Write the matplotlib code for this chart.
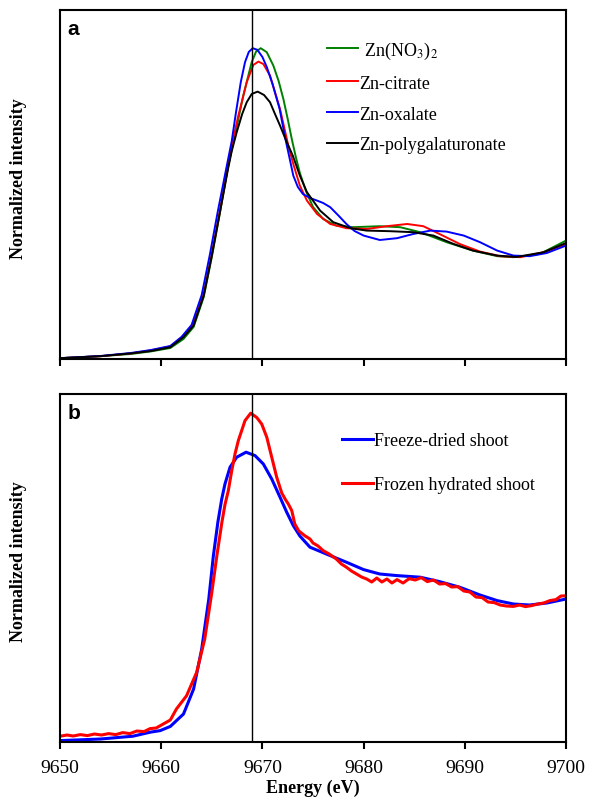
import numpy as np
import matplotlib
matplotlib.use('Agg')
import matplotlib.pyplot as plt

plt.rcParams['font.family'] = 'serif'
plt.rcParams['font.serif'] = ['Liberation Serif', 'DejaVu Serif']
plt.rcParams['mathtext.fontset'] = 'stix'

# ---- panel a: reference compounds (energy in eV, normalized intensity) ----
e_black = [9650, 9654, 9657, 9659, 9660.9, 9662.2, 9663.2, 9664.2, 9665.0, 9665.8, 9666.6,
           9666.97, 9667.46, 9668.0, 9668.45, 9668.94, 9669.53, 9670.16, 9670.75, 9671.2,
           9671.74, 9672.4, 9673.0, 9673.7, 9674.4, 9675.7, 9677.0, 9678.7,
           9680.3, 9682.6, 9684.9, 9686.9, 9688.9, 9690.8, 9693.2, 9695.1, 9697.8, 9700]
i_black = [0.004, 0.014, 0.028, 0.040, 0.059, 0.109, 0.167, 0.317, 0.517, 0.734, 0.950,
           1.040, 1.134, 1.225, 1.284, 1.325, 1.337, 1.320, 1.284, 1.230,
           1.167, 1.085, 1.017, 0.917, 0.834, 0.742, 0.684, 0.654,
           0.642, 0.639, 0.634, 0.617, 0.575, 0.542, 0.517, 0.510, 0.534, 0.580]

e_blue = [9650, 9654, 9657, 9659, 9660.9, 9662.0, 9663.0, 9664.0, 9664.8, 9665.6, 9666.3,
          9666.97, 9667.39, 9667.86, 9668.28, 9668.65, 9669.04, 9669.5, 9670.0, 9670.43,
          9671.0, 9671.7, 9672.23, 9672.7, 9673.05, 9673.5, 9674.0, 9674.7, 9675.4, 9676.0,
          9676.7, 9677.5, 9678.3, 9679.1, 9680.0, 9681.6, 9683.3, 9684.9, 9686.6, 9688.2,
          9689.9, 9691.5, 9693.2, 9694.8, 9696.4, 9698.1, 9700]
i_blue = [0.004, 0.015, 0.030, 0.045, 0.065, 0.110, 0.170, 0.320, 0.520, 0.740, 0.920,
          1.090, 1.234, 1.384, 1.484, 1.535, 1.554, 1.546, 1.510, 1.460,
          1.375, 1.250, 1.110, 1.000, 0.917, 0.860, 0.825, 0.805, 0.792, 0.780,
          0.759, 0.718, 0.675, 0.640, 0.617, 0.595, 0.604, 0.625, 0.642, 0.637,
          0.617, 0.584, 0.542, 0.517, 0.514, 0.530, 0.567]

e_green = [9650, 9654, 9657, 9659, 9660.9, 9662.2, 9663.2, 9664.2, 9665.0, 9665.8, 9666.6,
           9667.29, 9668.11, 9668.94, 9669.37, 9669.83, 9670.43, 9671.08, 9671.6, 9672.07,
           9672.5, 9672.9, 9673.3, 9673.7, 9674.3, 9675.0, 9676.0, 9677.3, 9679.0, 9681.6,
           9683.6, 9685.6, 9688.2, 9690.8, 9693.2, 9694.8, 9697.4, 9700]
i_green = [0.004, 0.014, 0.025, 0.038, 0.055, 0.100, 0.160, 0.310, 0.510, 0.730, 0.960,
           1.120, 1.317, 1.484, 1.537, 1.554, 1.534, 1.467, 1.390, 1.300,
           1.200, 1.100, 1.010, 0.930, 0.840, 0.760, 0.700, 0.667, 0.659, 0.664,
           0.659, 0.634, 0.584, 0.542, 0.514, 0.509, 0.525, 0.592]

e_red = [9650, 9654, 9657, 9659, 9660.9, 9662.2, 9663.2, 9664.2, 9665.0, 9665.8, 9666.6,
         9666.97, 9667.62, 9668.45, 9669.1, 9669.6, 9670.09, 9670.75, 9671.74, 9672.56,
         9673.05, 9673.7, 9674.4, 9675.4, 9676.7, 9678.3, 9680.3, 9682.3, 9684.3, 9685.9,
         9687.5, 9689.5, 9691.5, 9693.5, 9695.5, 9697.8, 9700]
i_red = [0.004, 0.014, 0.028, 0.043, 0.063, 0.115, 0.180, 0.325, 0.525, 0.740, 0.960,
         1.067, 1.217, 1.384, 1.470, 1.487, 1.475, 1.417, 1.250, 1.067,
         0.975, 0.867, 0.792, 0.725, 0.675, 0.654, 0.650, 0.664, 0.675, 0.664,
         0.625, 0.575, 0.537, 0.514, 0.509, 0.534, 0.575]

# ---- panel b: shoot samples ----
e_dried = [9650, 9654, 9657.2, 9658.9, 9659.9, 9660.9, 9662.2, 9663.2, 9664.0, 9664.7,
           9665.15, 9665.6, 9665.98, 9666.3, 9666.8, 9667.46, 9668.38, 9669.27, 9670.09,
           9670.92, 9671.74, 9672.4, 9673.05, 9673.7, 9674.7, 9676.7, 9678.3, 9680.0, 9681.6,
           9683.3, 9685.6, 9687.5, 9689.5, 9691.5, 9693.2, 9694.8, 9696.4, 9698.1, 9700]
i_dried = [0.007, 0.015, 0.029, 0.049, 0.057, 0.078, 0.140, 0.265, 0.465, 0.715,
           0.930, 1.100, 1.215, 1.290, 1.374, 1.424, 1.449, 1.432, 1.390,
           1.315, 1.224, 1.149, 1.082, 1.030, 0.974, 0.932, 0.899, 0.862, 0.840,
           0.832, 0.824, 0.802, 0.774, 0.735, 0.707, 0.690, 0.685, 0.695, 0.715]

e_hydr = [9650, 9650.7, 9651.3, 9652.0, 9652.7, 9653.4, 9654.1, 9654.8, 9655.5, 9656.2,
          9656.9, 9657.6, 9658.3, 9658.9, 9659.5, 9660.2, 9660.9, 9661.5, 9662.5, 9663.5,
          9664.3, 9665.0, 9665.5, 9666.0, 9666.3, 9666.63, 9666.97, 9667.29, 9667.62,
          9667.95, 9668.28, 9668.84, 9669.43, 9669.93, 9670.43, 9670.92, 9671.41, 9671.91,
          9672.3, 9672.56, 9672.9, 9673.2, 9673.6, 9674.2,
          9674.7, 9675.0, 9675.5, 9676.0, 9676.6, 9677.3, 9677.8, 9678.3, 9678.8, 9679.3,
          9679.8, 9680.3, 9680.8, 9681.3, 9681.8, 9682.3, 9682.8, 9683.3, 9683.9, 9684.5,
          9685.1, 9685.7, 9686.3, 9686.9, 9687.5, 9688.1, 9688.7, 9689.3, 9689.9, 9690.5,
          9691.1, 9691.7, 9692.3, 9692.9, 9693.5, 9694.1, 9694.8, 9695.4, 9696.0, 9696.6,
          9697.2, 9697.8, 9698.4, 9699.0, 9699.5, 9700]
i_hydr = [0.029, 0.035, 0.030, 0.037, 0.032, 0.040, 0.035, 0.042, 0.037, 0.047,
          0.042, 0.055, 0.052, 0.067, 0.070, 0.090, 0.110, 0.165, 0.231, 0.348,
          0.515, 0.748, 0.932, 1.100, 1.187, 1.257, 1.357, 1.440, 1.507,
          1.557, 1.607, 1.644, 1.623, 1.590, 1.524, 1.424, 1.324, 1.245,
          1.210, 1.190, 1.157, 1.090, 1.055, 1.031,
          1.015, 0.995, 0.980, 0.957, 0.940, 0.915, 0.890, 0.874, 0.855, 0.840,
          0.825, 0.815, 0.800, 0.820, 0.800, 0.815, 0.795, 0.812, 0.795, 0.817,
          0.810, 0.822, 0.802, 0.810, 0.790, 0.792, 0.775, 0.777, 0.755, 0.750,
          0.725, 0.722, 0.700, 0.697, 0.685, 0.680, 0.678, 0.685, 0.677, 0.682,
          0.690, 0.695, 0.707, 0.712, 0.730, 0.731]

e_line = 9669.0
xticks = [9650, 9660, 9670, 9680, 9690, 9700]

fig = plt.figure(figsize=(5.96, 8.03), dpi=100)
ax1 = fig.add_axes([0.1007, 0.5517, 0.849, 0.4346])
ax2 = fig.add_axes([0.1007, 0.0747, 0.849, 0.4334])

ax1.plot(e_green, i_green, color='#008000', lw=1.4, label=' Zn(NO$_3$)$_2$')
ax1.plot(e_red, i_red, color='#ff0000', lw=1.4, label='Zn-citrate')
ax1.plot(e_blue, i_blue, color='#0000ff', lw=1.4, label='Zn-oxalate')
ax1.plot(e_black, i_black, color='black', lw=1.4, label='Zn-polygalaturonate')
ax1.axvline(e_line, color='black', lw=1)
ax1.set_ylim(0, 1.745)

ax2.plot(e_dried, i_dried, color='#0000ff', lw=2.2, label='Freeze-dried shoot')
ax2.plot(e_hydr, i_hydr, color='#ff0000', lw=2.2, label='Frozen hydrated shoot')
ax2.axvline(e_line, color='black', lw=1)
ax2.set_ylim(0, 1.74)

for ax in (ax1, ax2):
    ax.set_xlim(9650, 9700)
    ax.set_xticks(xticks)
    ax.set_yticks([])
    ax.tick_params(axis='x', direction='out', length=5, width=1.5, pad=7, labelsize=14)
    for s in ax.spines.values():
        s.set_linewidth(1.5)
    ax.set_ylabel('Normalized intensity', fontsize=13, fontweight='bold')
    ax.yaxis.set_label_coords(-0.066, 0.52)

ax1.set_xticklabels([])
ax2.set_xlabel('Energy (eV)', fontsize=13, fontweight='bold', labelpad=2)

ax1.text(0.015, 0.975, 'a', transform=ax1.transAxes, fontsize=15, fontweight='bold',
         family='Liberation Sans', va='top')
ax2.text(0.015, 0.975, 'b', transform=ax2.transAxes, fontsize=15, fontweight='bold',
         family='Liberation Sans', va='top')

ax1.legend(loc='upper left', bbox_to_anchor=(0.528, 0.915), frameon=False, fontsize=13,
           handlelength=1.7, handletextpad=0.1, labelspacing=0.77, borderpad=0,
           borderaxespad=0)
ax2.legend(loc='upper left', bbox_to_anchor=(0.557, 0.89), frameon=False, fontsize=13,
           handlelength=1.7, handletextpad=0.1, labelspacing=1.5, borderpad=0,
           borderaxespad=0)

plt.savefig('out.png', dpi=100)
